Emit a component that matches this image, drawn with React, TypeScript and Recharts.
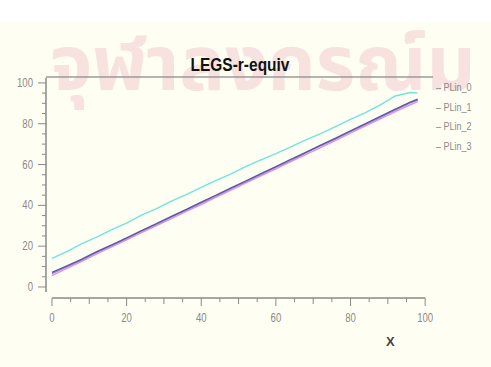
import React from "react";
import { LineChart, Line, XAxis, YAxis, ReferenceLine } from "recharts";

const xValues = [0, 4, 8, 12, 16, 20, 24, 28, 32, 36, 40, 44, 48, 52, 56, 60, 64, 68, 72, 76, 80, 84, 88, 92, 96, 98];
const plin0 = [14, 17.3, 21.2, 24.4, 28.1, 31.3, 35.2, 38.4, 42.1, 45.3, 48.8, 52.2, 55.4, 59.1, 62.3, 65.4, 68.7, 72.1, 75.2, 78.6, 82.1, 85.4, 89.2, 93.6, 95.3, 95.1];
const plin1 = [6.5, 9.8, 13.1, 16.9, 20.2, 23.6, 27.3, 30.4, 34.2, 37.6, 41.1, 44.3, 48.2, 51.4, 55.1, 58.6, 61.8, 65.7, 69.1, 72.4, 76.2, 79.4, 83.1, 86.7, 90.2, 91.6];
const plin2 = [5.6, 9.1, 12.6, 16.2, 19.7, 23.1, 26.6, 30.1, 33.5, 37.1, 40.4, 44.0, 47.5, 51.0, 54.4, 57.9, 61.4, 64.9, 68.3, 71.9, 75.4, 78.9, 82.4, 85.9, 89.3, 90.8];
const plin3 = [7.2, 10.3, 13.6, 17.3, 20.6, 24.1, 27.6, 31.0, 34.6, 38.0, 41.6, 45.0, 48.6, 52.0, 55.6, 59.0, 62.5, 66.0, 69.5, 73.0, 76.5, 80.0, 83.6, 87.1, 90.6, 92.0];
const seriesNames = ["PLin_0", "PLin_1", "PLin_2", "PLin_3"];
const seriesColors = ["#6fe3e3", "#a77ed8", "#e391d6", "#4d5da6"];
const tickValues = [0, 5, 10, 15, 20, 25, 30, 35, 40, 45, 50, 55, 60, 65, 70, 75, 80, 85, 90, 95, 100];

const data = xValues.map((x, i) => ({
  x,
  PLin_0: plin0[i],
  PLin_1: plin1[i],
  PLin_2: plin2[i],
  PLin_3: plin3[i],
}));

const FONT = "'Liberation Sans', Arial, sans-serif";
const GRAY = "#8a8a8a";

// axes sit slightly off the data range, like the original plot
const X_DOMAIN = [-1.6, 102.1];
const Y_DOMAIN = [-5.4, 102.9];

function XTick({ x, y, payload }: any) {
  const v = payload.value;
  const len = v % 20 === 0 ? 8 : v % 10 === 0 ? 6 : 4;
  return (
    <g>
      <line x1={x} y1={y} x2={x} y2={y + len} stroke={GRAY} strokeWidth={1} />
      {v % 20 === 0 && (
        <text transform={`translate(${x},${y + 24}) scale(0.8,1)`} textAnchor="middle" fontSize={12} fill={GRAY} fontFamily={FONT}>
          {v}
        </text>
      )}
    </g>
  );
}

function YTick({ x, y, payload }: any) {
  const v = payload.value;
  const len = v % 20 === 0 ? 8 : 4;
  return (
    <g>
      <line x1={x - len} y1={y} x2={x} y2={y} stroke={GRAY} strokeWidth={1} />
      {v % 20 === 0 && (
        <text transform={`translate(${x - 13},${y + 4}) scale(0.8,1)`} textAnchor="end" fontSize={12} fill={GRAY} fontFamily={FONT}>
          {v}
        </text>
      )}
    </g>
  );
}

export default function App() {
  return (
    <div style={{ position: "absolute", top: 0, left: 0, width: 491, height: 367, background: "#fffef3", overflow: "hidden" }}>
      <div style={{ position: "absolute", top: 0, left: 0, width: 491, height: 22, background: "#ffffff" }} />
      {/* faint watermark behind the chart */}
      <svg width={491} height={130} style={{ position: "absolute", top: 0, left: 0 }}>
        <text x={50} y={90} fontSize={76} fontWeight={700} fill="#f7e2e0" fontFamily="'Noto Sans Thai', 'Noto Sans', 'DejaVu Sans', sans-serif">
          จุฬาลงกรณ์ม
        </text>
      </svg>
      <div style={{ position: "absolute", top: 55, left: 140, width: 200, textAlign: "center", fontSize: 18, fontWeight: 700, color: "#111", fontFamily: FONT, transform: "scaleX(0.86)" }}>
        LEGS-r-equiv
      </div>
      <LineChart
        width={491}
        height={367}
        data={data}
        margin={{ top: 77, right: 58, bottom: 0, left: 0 }}
        style={{ position: "absolute", top: 0, left: 0 }}
      >
        <XAxis
          dataKey="x"
          type="number"
          domain={X_DOMAIN}
          ticks={tickValues}
          interval={0}
          height={69}
          axisLine={false}
          tickLine={false}
          tickSize={0}
          tickMargin={0}
          tick={<XTick />}
          allowDataOverflow
        />
        <YAxis
          type="number"
          domain={Y_DOMAIN}
          ticks={tickValues}
          interval={0}
          width={46}
          axisLine={false}
          tickLine={false}
          tickSize={0}
          tickMargin={0}
          tick={<YTick />}
          allowDataOverflow
        />
        <ReferenceLine y={Y_DOMAIN[1]} stroke="#9a9a9a" strokeWidth={1.5} />
        <ReferenceLine segment={[{ x: 0, y: Y_DOMAIN[0] }, { x: 100, y: Y_DOMAIN[0] }]} stroke={GRAY} strokeWidth={1.5} ifOverflow="visible" />
        <ReferenceLine segment={[{ x: X_DOMAIN[0], y: -2.5 }, { x: X_DOMAIN[0], y: 102.5 }]} stroke={GRAY} strokeWidth={1.5} ifOverflow="visible" />
        {seriesNames.map((name, i) => (
          <Line
            key={name}
            type="linear"
            dataKey={name}
            stroke={seriesColors[i]}
            strokeWidth={1.4}
            dot={false}
            isAnimationActive={false}
          />
        ))}
      </LineChart>
      <div style={{ position: "absolute", top: 78, left: 436, fontFamily: FONT, fontSize: 11, color: GRAY, lineHeight: "19.5px", transform: "scaleX(0.82)", transformOrigin: "left top" }}>
        {seriesNames.map((name) => (
          <div key={name}>– {name}</div>
        ))}
      </div>
      <div style={{ position: "absolute", top: 334, left: 386, fontFamily: FONT, fontSize: 13, fontWeight: 700, color: "#444" }}>X</div>
    </div>
  );
}
